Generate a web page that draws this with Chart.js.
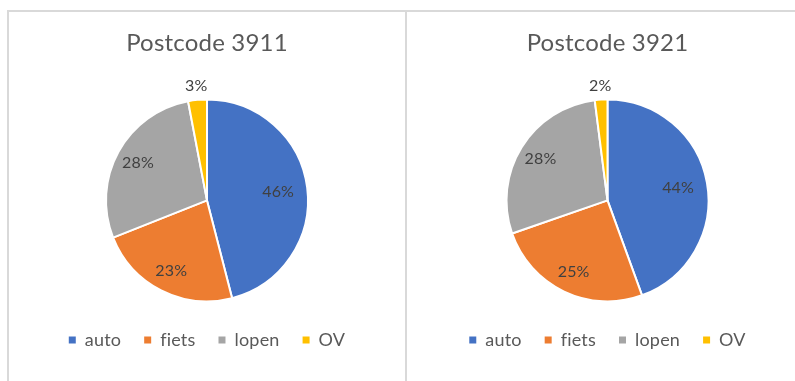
<!DOCTYPE html>
<html>
<head>
<meta charset="utf-8">
<script src="https://cdn.jsdelivr.net/npm/chart.js@4.4.1/dist/chart.umd.min.js"></script>
<style>
  html, body { margin: 0; padding: 0; background: #fff; width: 795px; height: 381px; overflow: hidden; }
  .frame { position: absolute; top: 10px; left: 7px; right: 0; bottom: 0;
           border-top: 2px solid #d9d9d9; border-left: 2px solid #d9d9d9; }
  .divider { position: absolute; top: 10px; left: 405px; width: 2px; bottom: 0; background: #d9d9d9; }
  .box { position: absolute; top: 12px; height: 369px; }
  #box1 { left: 9px; width: 396px; }
  #box2 { left: 407px; width: 401px; }
</style>
</head>
<body>
<div class="frame"></div>
<div class="divider"></div>
<div class="box" id="box1"><canvas id="pie3911"></canvas></div>
<div class="box" id="box2"><canvas id="pie3921"></canvas></div>
<script>
// Vervoerswijze per postcode (percentages)
const categories = ['auto', 'fiets', 'lopen', 'OV'];
const share3911 = [46, 23, 28, 3];
const share3921 = [44, 25, 28, 2];
const chartTitles = ['Postcode 3911', 'Postcode 3921'];

const sliceColors = ['#4472C4', '#ED7D31', '#A5A5A5', '#FFC000'];
const textColor = '#595959';
const fontFamily = 'Lato, "Open Sans", sans-serif';

// A tiny letter spacing keeps "fi" from being drawn as a ligature
const noLigatures = {
  id: 'noLigatures',
  beforeDraw(chart) { chart.ctx.letterSpacing = '0.2px'; },
  beforeUpdate(chart) { chart.ctx.letterSpacing = '0.2px'; }
};

// Percentage labels: inside the slice, or just outside for very small slices
const sliceLabels = {
  id: 'sliceLabels',
  afterDatasetsDraw(chart) {
    const ctx = chart.ctx;
    const meta = chart.getDatasetMeta(0);
    const values = chart.data.datasets[0].data;
    ctx.save();
    ctx.font = '16px ' + fontFamily;
    ctx.fillStyle = '#404040';
    ctx.textAlign = 'center';
    ctx.textBaseline = 'middle';
    meta.data.forEach((arc, i) => {
      const p = arc.getProps(['x', 'y', 'startAngle', 'endAngle', 'outerRadius'], true);
      const mid = (p.startAngle + p.endAngle) / 2;
      let r;
      if (values[i] < 5) r = p.outerRadius + 14;
      else if (values[i] > 40) r = p.outerRadius * 0.71;
      else r = p.outerRadius * 0.78;
      ctx.fillText(values[i] + '%', p.x + Math.cos(mid) * r, p.y + Math.sin(mid) * r);
    });
    ctx.restore();
  }
};

function makePie(canvasId, title, values) {
  return new Chart(document.getElementById(canvasId), {
    type: 'pie',
    data: {
      labels: categories,
      datasets: [{
        data: values,
        backgroundColor: sliceColors,
        borderColor: '#ffffff',
        borderWidth: 2,
        radius: 101
      }]
    },
    options: {
      responsive: true,
      maintainAspectRatio: false,
      animation: false,
      layout: { padding: { bottom: 22 } },
      plugins: {
        tooltip: { enabled: false },
        title: {
          display: true,
          text: title,
          color: textColor,
          font: { family: fontFamily, size: 24, weight: 'normal' },
          padding: { top: 17, bottom: 35 }
        },
        legend: {
          position: 'bottom',
          labels: {
            color: textColor,
            font: { family: fontFamily, size: 18 },
            boxWidth: 7,
            boxHeight: 7,
            padding: 23,
            generateLabels(chart) {
              const items = Chart.overrides.doughnut.plugins.legend.labels.generateLabels(chart);
              items.forEach(it => { it.lineWidth = 0; it.strokeStyle = it.fillStyle; });
              return items;
            }
          }
        }
      }
    },
    plugins: [noLigatures, sliceLabels]
  });
}

makePie('pie3911', chartTitles[0], share3911);
makePie('pie3921', chartTitles[1], share3921);
</script>
</body>
</html>
